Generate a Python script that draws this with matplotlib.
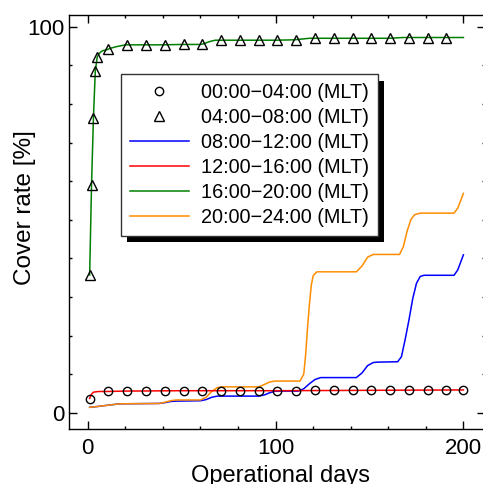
import matplotlib
matplotlib.use("Agg")
import matplotlib.pyplot as plt
from matplotlib.ticker import MultipleLocator, FixedLocator
import matplotlib.patheffects as pe

plt.rcParams['font.family'] = ['Liberation Sans', 'DejaVu Sans']

labels = ["00:00\u221204:00 (MLT)", "04:00\u221208:00 (MLT)", "08:00\u221212:00 (MLT)",
          "12:00\u221216:00 (MLT)", "16:00\u221220:00 (MLT)", "20:00\u221224:00 (MLT)"]

# 00:00-04:00 circles
circ_days = [1, 11, 21, 31, 41, 51, 61, 71, 81, 91, 101, 111, 121, 131, 141, 151, 161, 171, 181, 191, 200]
circ_vals = [3.6, 5.5, 5.6, 5.6, 5.6, 5.6, 5.6, 5.6, 5.7, 5.7, 5.7, 5.7, 5.8, 5.8, 5.8, 5.9, 5.9, 5.9, 6.0, 6.0, 6.0]

# 04:00-08:00 triangles
tri_days = [1, 2, 3, 4, 5, 11, 21, 31, 41, 51, 61, 71, 81, 91, 101, 111, 121, 131, 141, 151, 161, 171, 181, 191]
tri_vals = [35.7, 59.0, 76.3, 88.5, 92.1, 94.1, 95.3, 95.3, 95.3, 95.4, 95.5, 96.5, 96.5, 96.5, 96.5, 96.6,
            97.0, 97.0, 97.0, 97.0, 97.0, 97.2, 97.2, 97.2]

# 08:00-12:00 line
blue_days = [1, 5, 10, 17, 38, 41, 44, 47, 60, 63, 66, 69, 91, 94, 97, 100, 112, 115, 118, 121, 124, 143, 146,
             149, 152, 154, 165, 167, 169, 171, 173, 175, 177, 179, 195, 197, 200]
blue_vals = [1.4, 1.6, 1.9, 2.3, 2.4, 2.6, 2.9, 3.0, 3.1, 3.4, 4.0, 4.3, 4.3, 4.6, 5.2, 5.6, 5.6, 6.2, 7.5, 8.6,
             9.1, 9.1, 10.3, 12.2, 13.0, 13.1, 13.2, 14.5, 19.0, 24.0, 29.5, 33.5, 35.3, 35.6, 35.6, 37.0, 40.9]

# 12:00-16:00 line
red_days = [1, 2, 3, 4, 6, 10, 20, 50, 100, 150, 200]
red_vals = [3.7, 4.8, 5.3, 5.4, 5.5, 5.5, 5.6, 5.7, 5.7, 5.8, 5.9]

# 16:00-20:00 line
green_days = [1, 2, 3, 4, 5, 6, 7, 8, 10, 12, 15, 20, 30, 40, 50, 60, 62, 64, 66, 68, 70, 80, 90, 100, 110,
              112, 114, 116, 118, 120, 130, 140, 150, 160, 162, 164, 166, 168, 170, 180, 190, 200]
green_vals = [35.7, 59.0, 76.3, 88.5, 92.1, 93.0, 93.5, 93.8, 94.0, 94.4, 94.8, 95.3, 95.3, 95.3, 95.4, 95.4,
              95.6, 96.0, 96.3, 96.5, 96.5, 96.5, 96.5, 96.5, 96.6, 96.7, 96.8, 96.9, 97.0, 97.0, 97.0, 97.0,
              97.0, 97.0, 97.05, 97.1, 97.15, 97.2, 97.2, 97.2, 97.2, 97.2]

# 20:00-24:00 line
orange_days = [1, 5, 10, 17, 38, 41, 44, 47, 60, 63, 66, 69, 71, 91, 94, 97, 100, 113, 115, 116, 117, 118, 119,
               120, 122, 143, 146, 149, 152, 166, 168, 170, 172, 174, 177, 195, 197, 200]
orange_vals = [1.4, 1.6, 1.9, 2.3, 2.4, 2.7, 3.1, 3.3, 3.3, 4.0, 5.5, 6.5, 6.7, 6.7, 7.3, 8.0, 8.2, 8.2, 10.0,
               15.0, 22.0, 28.0, 33.0, 35.5, 36.5, 36.5, 38.0, 40.3, 41.0, 41.0, 43.0, 47.0, 50.0, 51.3, 51.7,
               51.7, 53.0, 56.8]

fig = plt.figure(figsize=(4.83, 4.84), dpi=100)
ax = fig.add_axes([69/483, 55/484, 416/483, 414/484])

ax.plot(circ_days, circ_vals, linestyle='none', marker='o', ms=6, mfc='none', mec='black', mew=1.0,
        label=labels[0], zorder=4)
ax.plot(tri_days, tri_vals, linestyle='none', marker='^', ms=6.5, mfc='none', mec='black', mew=1.0,
        label=labels[1], zorder=4)
ax.plot(blue_days, blue_vals, color='#0000ff', lw=1.1, label=labels[2], zorder=2)
ax.plot(red_days, red_vals, color='#ff0000', lw=1.1, label=labels[3], zorder=3)
ax.plot(green_days, green_vals, color='#008000', lw=1.1, label=labels[4], zorder=3)
ax.plot(orange_days, orange_vals, color='#ff8c00', lw=1.1, label=labels[5], zorder=2.5)

ax.set_xlim(-10, 211.5)
ax.set_ylim(-4.22, 103.03)
ax.xaxis.set_major_locator(FixedLocator([0, 100, 200]))
ax.xaxis.set_minor_locator(MultipleLocator(20))
ax.yaxis.set_major_locator(FixedLocator([0, 100]))
ax.yaxis.set_minor_locator(MultipleLocator(10))

ax.tick_params(which='both', direction='in', top=True, right=True, width=1.0, colors='black')
ax.tick_params(which='major', length=6, labelsize=16)
ax.tick_params(which='minor', length=2.5)
ax.tick_params(axis='x', which='major', pad=6.5)
ax.tick_params(axis='y', which='major', pad=3.5)
for s in ax.spines.values():
    s.set_linewidth(1.0)

ax.set_xlabel("Operational days", fontsize=17)
ax.set_ylabel("Cover rate [%]", fontsize=17.5)
ax.xaxis.set_label_coords(0.509, -0.088)
ax.yaxis.set_label_coords(-0.079, 0.535)

leg = ax.legend(loc='upper left', bbox_to_anchor=(0.124, 0.857), borderaxespad=0, fontsize=14.3,
                frameon=True, fancybox=False, framealpha=1, edgecolor='#333333',
                handlelength=3.0, handletextpad=0.6, borderpad=0.45, labelspacing=0.30)
leg.get_frame().set_linewidth(1.0)
leg.get_frame().set_path_effects([pe.SimplePatchShadow(offset=(4.3, -4.6), shadow_rgbFace='black', alpha=1.0),
                                  pe.Normal()])

fig.savefig("out.png", dpi=100)
